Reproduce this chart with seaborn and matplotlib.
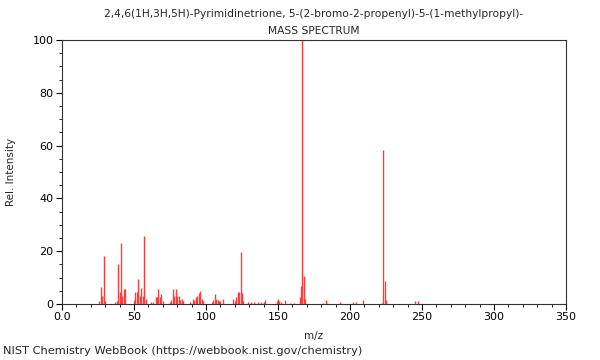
import matplotlib
matplotlib.use('Agg')
import matplotlib.pyplot as plt
from matplotlib.ticker import MultipleLocator, FixedLocator, FixedFormatter
import seaborn as sns
import pandas as pd

# ── DATA ─────────────────────────────────────────────────────────────────────
mz = [26, 27, 28, 29, 30, 37, 38, 39, 40, 41, 42, 43, 44,
      50, 51, 52, 53, 54, 55, 56, 57, 58,
      62, 63, 65, 66, 67, 68, 69, 70,
      75, 76, 77, 78, 79, 80, 81, 82, 83, 84,
      89, 91, 92, 93, 94, 95, 96, 97, 98,
      104, 105, 106, 107, 108, 109, 110, 112,
      119, 120, 121, 122, 123, 124, 125, 126,
      129, 131, 133, 136, 138, 140, 141,
      149, 150, 151, 152, 155, 158, 161,
      165, 166, 167, 168, 169,
      181, 183, 193, 202, 204, 209,
      222, 223, 224, 225, 245, 247]
intensity = [1.0, 6.5, 3.0, 18.3, 1.0, 0.6, 1.2, 15.0, 4.5, 23.0, 3.0, 5.5, 5.8,
             1.5, 4.6, 4.5, 9.5, 3.0, 6.2, 3.0, 25.7, 1.8,
             0.8, 0.6, 2.6, 2.6, 5.5, 2.8, 3.7, 1.0,
             0.8, 1.5, 5.6, 3.0, 5.5, 3.2, 3.0, 1.5, 2.0, 1.0,
             0.6, 2.0, 1.5, 2.7, 3.2, 4.3, 5.0, 2.0, 1.0,
             0.8, 1.5, 3.8, 2.0, 1.4, 1.0, 1.0, 2.0,
             2.0, 1.0, 2.6, 4.5, 4.7, 19.6, 4.0, 1.0,
             0.6, 0.6, 0.8, 0.6, 0.6, 0.6, 1.4,
             1.0, 1.9, 1.0, 0.8, 1.5, 0.5, 0.5,
             2.8, 6.7, 100.0, 10.6, 1.9,
             0.5, 1.6, 0.8, 0.6, 0.6, 1.5,
             0.5, 58.3, 8.7, 1.5, 1.2, 1.2]

title = ('2,4,6(1H,3H,5H)-Pyrimidinetrione, 5-(2-bromo-2-propenyl)-5-(1-methylpropyl)-\n'
         'MASS SPECTRUM')
xtick_vals = [0, 50, 100, 150, 200, 250, 300, 350]
xtick_labels = ['0.0', '50', '100', '150', '200', '250', '300', '350']

df = pd.DataFrame({'mz': mz, 'intensity': intensity})

# ── PLOT ─────────────────────────────────────────────────────────────────────
sns.set_theme(style='ticks')
plt.rcParams['font.family'] = ['DejaVu Sans']

fig = plt.figure(figsize=(6, 3.6), dpi=100)
ax = fig.add_axes([0.1033, 0.1556, 0.84, 0.7333])

ax.vlines(df['mz'], 0, df['intensity'], color='#ff3b3b', linewidth=1.0)

ax.set_xlim(0, 350)
ax.set_ylim(0, 100)
ax.xaxis.set_major_locator(FixedLocator(xtick_vals))
ax.xaxis.set_major_formatter(FixedFormatter(xtick_labels))
ax.xaxis.set_minor_locator(MultipleLocator(10))
ax.yaxis.set_major_locator(MultipleLocator(20))
ax.yaxis.set_minor_locator(MultipleLocator(5))

ax.tick_params(which='major', direction='out', length=4, width=0.8,
               labelsize=8, colors='black', pad=2)
ax.tick_params(which='minor', direction='out', length=2, width=0.6, colors='black')
for spine in ax.spines.values():
    spine.set_visible(True)
    spine.set_color('#333333')
    spine.set_linewidth(0.8)

ax.set_xlabel('m/z', fontsize=7.5, labelpad=6)
ax.set_ylabel('Rel. Intensity', fontsize=7.5, labelpad=12)
ax.set_title(title, fontsize=7.7, linespacing=1.9, pad=4)

fig.text(0.005, 0.01, 'NIST Chemistry WebBook (https://webbook.nist.gov/chemistry)',
         fontsize=8.2, ha='left', va='bottom')

plt.savefig('out.png', dpi=100, facecolor='white')
